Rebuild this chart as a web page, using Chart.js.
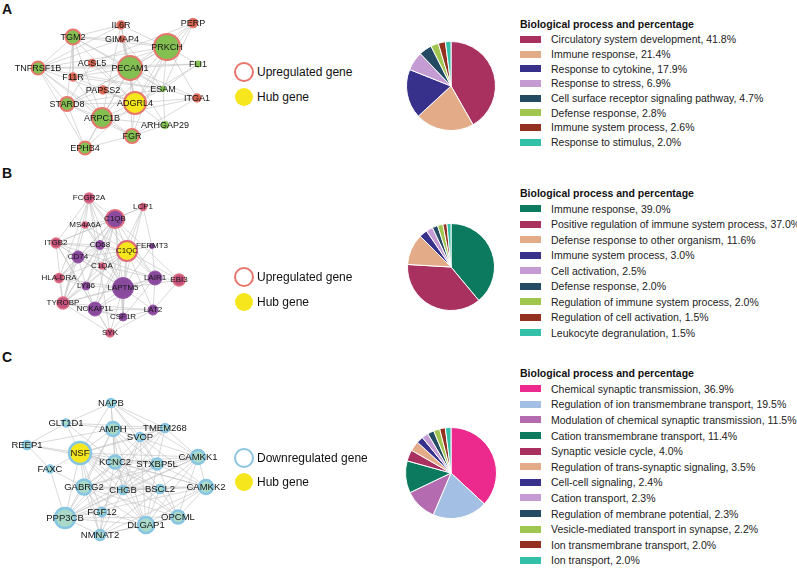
<!DOCTYPE html>
<html><head><meta charset="utf-8">
<script src="https://cdn.jsdelivr.net/npm/chart.js@4.4.1/dist/chart.umd.min.js"></script>
<style>
html,body{margin:0;padding:0;background:#fff;}
body{width:797px;height:569px;position:relative;overflow:hidden;font-family:"Liberation Sans",Arial,Helvetica,sans-serif;color:#111;}
.letter{position:absolute;left:2px;font-weight:bold;font-size:14px;line-height:14px;color:#111;}
.wrap{position:absolute;}
.lbl{position:absolute;transform:translate(-50%,-50%);white-space:nowrap;line-height:1;color:#151515;pointer-events:none;}
.mleg{position:absolute;left:257px;font-size:12px;line-height:14px;height:14px;white-space:nowrap;color:#111;}
.mark{position:absolute;border-radius:50%;box-sizing:border-box;}
.rleg{position:absolute;left:520px;font-size:10.5px;color:#222;}
.rleg .ttl{font-weight:bold;color:#111;height:15px;line-height:15px;white-space:nowrap;}
.rleg .it{display:flex;align-items:center;white-space:nowrap;}
.rleg .sw{width:21px;height:7px;margin-right:10px;flex:none;}
</style>
</head><body>
<div class="letter" style="top:2px">A</div>
<div class="letter" style="top:166px">B</div>
<div class="letter" style="top:350px">C</div>

<div class="wrap" id="netA" style="left:0;top:0;width:230px;height:170px"><canvas id="cA" width="230" height="170"></canvas></div>
<div class="wrap" id="netB" style="left:0;top:170px;width:230px;height:185px"><canvas id="cB" width="230" height="185"></canvas></div>
<div class="wrap" id="netC" style="left:0;top:355px;width:230px;height:214px"><canvas id="cC" width="230" height="214"></canvas></div>

<div class="wrap" style="left:406px;top:41px;width:90px;height:90px"><canvas id="pA" width="90" height="90"></canvas></div>
<div class="wrap" style="left:407px;top:223px;width:88px;height:88px"><canvas id="pB" width="88" height="88"></canvas></div>
<div class="wrap" style="left:405px;top:427px;width:92px;height:92px"><canvas id="pC" width="92" height="92"></canvas></div>

<div id="midlegs"></div>
<div class="rleg" id="legA" style="top:17px"></div>
<div class="rleg" id="legB" style="top:186px"></div>
<div class="rleg" id="legC" style="top:366px"></div>

<script>
// ---------------- Network A ----------------
const netA_names = ['IL6R','PERP','TGM2','GIMAP4','PRKCH','FLI1','TNFRSF1B','ACSL5','PECAM1','F11R','ESAM','ITGA1','PAPSS2','ADGRL4','STARD8','ARPC1B','ARHGAP29','FGR','EPHB4'];
const netA_x = [121,193,73,122,167,198,38,92,130,73,163,197,103,135,67,102,165,132,85];
const netA_y = [25,23,37,39,47,64,68,63,68,77,89,98,90,103,104,118,125,136,148];
const netA_score = [3,4,10,1,21,2,8,2,19,3,1,3,3,17,9,15,3,9,8];
const netA_kind = ['sm','sm','gr','sm','gr','g0','gr','sm','gr','sm','g0','sm','sm','hub','gr','gr','g0','gr','gr'];
const netA_edges = [
 ['TGM2','IL6R'],['TGM2','GIMAP4'],['TGM2','PRKCH'],['TGM2','PECAM1'],['TGM2','TNFRSF1B'],['TGM2','F11R'],['TGM2','STARD8'],['TGM2','ADGRL4'],['TGM2','ESAM'],['TGM2','ARPC1B'],
 ['IL6R','PRKCH'],['IL6R','PECAM1'],['IL6R','TNFRSF1B'],['IL6R','ADGRL4'],['IL6R','ARPC1B'],
 ['PERP','PRKCH'],['PERP','ESAM'],['PERP','ADGRL4'],['PERP','PECAM1'],['PERP','ACSL5'],
 ['GIMAP4','PECAM1'],['GIMAP4','ADGRL4'],['GIMAP4','ESAM'],['GIMAP4','PRKCH'],['GIMAP4','TNFRSF1B'],
 ['PRKCH','PECAM1'],['PRKCH','ADGRL4'],['PRKCH','ESAM'],['PRKCH','FLI1'],['PRKCH','ITGA1'],['PRKCH','ARPC1B'],['PRKCH','TNFRSF1B'],['PRKCH','F11R'],['PRKCH','STARD8'],['PRKCH','FGR'],
 ['FLI1','PECAM1'],['FLI1','ADGRL4'],['FLI1','ESAM'],['FLI1','TNFRSF1B'],
 ['TNFRSF1B','PECAM1'],['TNFRSF1B','ADGRL4'],['TNFRSF1B','STARD8'],['TNFRSF1B','ARPC1B'],['TNFRSF1B','EPHB4'],['TNFRSF1B','FGR'],['TNFRSF1B','ESAM'],
 ['ACSL5','PECAM1'],['ACSL5','ADGRL4'],['ACSL5','STARD8'],
 ['PECAM1','ADGRL4'],['PECAM1','ESAM'],['PECAM1','F11R'],['PECAM1','STARD8'],['PECAM1','ARPC1B'],['PECAM1','ITGA1'],['PECAM1','ARHGAP29'],['PECAM1','FGR'],['PECAM1','EPHB4'],['PECAM1','PAPSS2'],
 ['F11R','ADGRL4'],['F11R','ESAM'],['F11R','ARPC1B'],
 ['ESAM','ADGRL4'],['ESAM','ARHGAP29'],['ESAM','ITGA1'],['ESAM','STARD8'],
 ['ITGA1','ADGRL4'],['ITGA1','ARPC1B'],['ITGA1','FGR'],
 ['PAPSS2','ADGRL4'],['PAPSS2','STARD8'],
 ['ADGRL4','STARD8'],['ADGRL4','ARPC1B'],['ADGRL4','ARHGAP29'],['ADGRL4','FGR'],['ADGRL4','EPHB4'],
 ['STARD8','ARPC1B'],['STARD8','EPHB4'],['STARD8','FGR'],
 ['ARPC1B','FGR'],['ARPC1B','EPHB4'],['ARPC1B','ARHGAP29'],
 ['FGR','EPHB4'],['FGR','ARHGAP29']
];

// ---------------- Network B ----------------
const netB_names = ['FCGR2A','LCP1','C1QB','MS4A6A','ITGB2','CD68','C1QC','FERMT3','CD74','C1QA','HLA-DRA','LAIR1','EBI3','LY86','LAPTM5','TYROBP','NCKAP1L','LAT2','CSF1R','SYK'];
const netB_x = [89,143,115,85,56,100,127,152,78,102,59,155,179,86,123,63,95,153,123,110];
const netB_y = [198,207,219,225,243,245,251,246,257,266,278,278,280,286,288,303,309,310,317,333];
const netB_score = [5,2,13,1,5,4,15,0,7,1,4,9,7,3,16,7,9,5,3,3];
const netB_kind = ['pk','pk','pr','pk','pk','p','hub','p','p','pk','pk','p','pk','p','p','pk','p','p','p','pk'];
const netB_edges = [
 ['FCGR2A','C1QB'],['FCGR2A','MS4A6A'],['FCGR2A','ITGB2'],['FCGR2A','CD68'],['FCGR2A','C1QC'],['FCGR2A','LAPTM5'],['FCGR2A','TYROBP'],['FCGR2A','SYK'],['FCGR2A','HLA-DRA'],['FCGR2A','LAIR1'],
 ['LCP1','C1QB'],['LCP1','LAPTM5'],['LCP1','C1QC'],['LCP1','FERMT3'],['LCP1','NCKAP1L'],['LCP1','ITGB2'],
 ['C1QB','MS4A6A'],['C1QB','C1QC'],['C1QB','CD68'],['C1QB','CD74'],['C1QB','C1QA'],['C1QB','LAPTM5'],['C1QB','LAIR1'],['C1QB','TYROBP'],['C1QB','ITGB2'],['C1QB','HLA-DRA'],['C1QB','LY86'],['C1QB','NCKAP1L'],['C1QB','CSF1R'],['C1QB','EBI3'],
 ['MS4A6A','CD68'],['MS4A6A','LAPTM5'],['MS4A6A','TYROBP'],['MS4A6A','C1QC'],
 ['ITGB2','CD68'],['ITGB2','CD74'],['ITGB2','LAPTM5'],['ITGB2','TYROBP'],['ITGB2','C1QC'],['ITGB2','SYK'],['ITGB2','NCKAP1L'],['ITGB2','LAIR1'],
 ['CD68','C1QC'],['CD68','CD74'],['CD68','LAPTM5'],['CD68','TYROBP'],['CD68','HLA-DRA'],['CD68','LY86'],
 ['C1QC','C1QA'],['C1QC','LAPTM5'],['C1QC','LAIR1'],['C1QC','CD74'],['C1QC','TYROBP'],['C1QC','NCKAP1L'],['C1QC','CSF1R'],['C1QC','FERMT3'],['C1QC','EBI3'],['C1QC','LAT2'],['C1QC','HLA-DRA'],['C1QC','LY86'],
 ['FERMT3','LAPTM5'],['FERMT3','LAIR1'],
 ['CD74','HLA-DRA'],['CD74','LAPTM5'],['CD74','TYROBP'],['CD74','LY86'],['CD74','C1QA'],
 ['C1QA','LAPTM5'],['C1QA','TYROBP'],['C1QA','LAIR1'],
 ['HLA-DRA','LAPTM5'],['HLA-DRA','TYROBP'],['HLA-DRA','LY86'],
 ['LAIR1','LAPTM5'],['LAIR1','EBI3'],['LAIR1','TYROBP'],['LAIR1','LAT2'],['LAIR1','NCKAP1L'],['LAIR1','CSF1R'],
 ['EBI3','LAPTM5'],['EBI3','LAT2'],
 ['LY86','LAPTM5'],['LY86','TYROBP'],['LY86','NCKAP1L'],
 ['LAPTM5','TYROBP'],['LAPTM5','NCKAP1L'],['LAPTM5','LAT2'],['LAPTM5','CSF1R'],['LAPTM5','SYK'],
 ['TYROBP','NCKAP1L'],['TYROBP','SYK'],['TYROBP','CSF1R'],['TYROBP','LAT2'],
 ['NCKAP1L','CSF1R'],['NCKAP1L','SYK'],['NCKAP1L','LAT2'],
 ['LAT2','CSF1R'],['LAT2','SYK'],['CSF1R','SYK']
];

// ---------------- Network C ----------------
const netC_names = ['NAPB','GLT1D1','AMPH','TMEM268','SVOP','REEP1','NSF','KCNC2','STXBP5L','CAMKK1','FAXC','GABRG2','CHGB','BSCL2','CAMKK2','FGF12','PPP3CB','OPCML','DLGAP1','NMNAT2'];
const netC_x = [111,66,113,165,140,27,80,115,157,198,50,84,123,160,206,102,65,178,146,100];
const netC_y = [403,423,429,428,437,445,453,462,464,457,469,487,490,489,487,512,518,517,525,535];
const netC_score = [3,2,9,3,3,3,17,8,6,9,2,10,3,3,9,3,15,8,11,5];
const netC_kind = ['n','n','n','n','n','n','hub','n','n','n','n','n','n','n','n','n','n','n','n','n'];
const netC_edges = [
 ['NAPB','AMPH'],['NAPB','NSF'],['NAPB','SVOP'],['NAPB','KCNC2'],['NAPB','STXBP5L'],['NAPB','GLT1D1'],['NAPB','CAMKK1'],['NAPB','TMEM268'],
 ['GLT1D1','NSF'],['GLT1D1','AMPH'],['GLT1D1','TMEM268'],['GLT1D1','REEP1'],['GLT1D1','KCNC2'],
 ['AMPH','NSF'],['AMPH','SVOP'],['AMPH','TMEM268'],['AMPH','KCNC2'],['AMPH','STXBP5L'],['AMPH','CAMKK1'],['AMPH','GABRG2'],['AMPH','CHGB'],['AMPH','BSCL2'],['AMPH','DLGAP1'],['AMPH','PPP3CB'],
 ['TMEM268','SVOP'],['TMEM268','CAMKK1'],['TMEM268','NSF'],['TMEM268','STXBP5L'],['TMEM268','CHGB'],['TMEM268','GABRG2'],['TMEM268','PPP3CB'],
 ['SVOP','NSF'],['SVOP','STXBP5L'],['SVOP','KCNC2'],['SVOP','CHGB'],['SVOP','DLGAP1'],['SVOP','CAMKK2'],['SVOP','FGF12'],
 ['REEP1','NSF'],['REEP1','AMPH'],['REEP1','KCNC2'],['REEP1','FAXC'],
 ['NSF','KCNC2'],['NSF','STXBP5L'],['NSF','CAMKK1'],['NSF','FAXC'],['NSF','GABRG2'],['NSF','CHGB'],['NSF','BSCL2'],['NSF','CAMKK2'],['NSF','PPP3CB'],['NSF','DLGAP1'],['NSF','OPCML'],['NSF','FGF12'],['NSF','NMNAT2'],
 ['KCNC2','STXBP5L'],['KCNC2','CAMKK1'],['KCNC2','GABRG2'],['KCNC2','CHGB'],['KCNC2','BSCL2'],['KCNC2','CAMKK2'],['KCNC2','PPP3CB'],['KCNC2','DLGAP1'],['KCNC2','OPCML'],['KCNC2','NMNAT2'],
 ['STXBP5L','CAMKK1'],['STXBP5L','CAMKK2'],['STXBP5L','GABRG2'],['STXBP5L','CHGB'],['STXBP5L','DLGAP1'],['STXBP5L','PPP3CB'],['STXBP5L','OPCML'],
 ['CAMKK1','CAMKK2'],['CAMKK1','BSCL2'],['CAMKK1','GABRG2'],['CAMKK1','DLGAP1'],['CAMKK1','OPCML'],['CAMKK1','PPP3CB'],['CAMKK1','CHGB'],
 ['FAXC','GABRG2'],['FAXC','PPP3CB'],
 ['GABRG2','CHGB'],['GABRG2','BSCL2'],['GABRG2','CAMKK2'],['GABRG2','PPP3CB'],['GABRG2','FGF12'],['GABRG2','DLGAP1'],['GABRG2','NMNAT2'],['GABRG2','OPCML'],
 ['CHGB','BSCL2'],['CHGB','PPP3CB'],['CHGB','DLGAP1'],['CHGB','NMNAT2'],['CHGB','CAMKK2'],
 ['BSCL2','CAMKK2'],['BSCL2','DLGAP1'],['BSCL2','PPP3CB'],['BSCL2','OPCML'],['BSCL2','NMNAT2'],
 ['CAMKK2','OPCML'],['CAMKK2','DLGAP1'],['CAMKK2','PPP3CB'],['CAMKK2','NMNAT2'],
 ['FGF12','PPP3CB'],['FGF12','DLGAP1'],['FGF12','NMNAT2'],
 ['PPP3CB','DLGAP1'],['PPP3CB','NMNAT2'],['PPP3CB','OPCML'],
 ['OPCML','DLGAP1'],['OPCML','NMNAT2'],['DLGAP1','NMNAT2']
];

// ---------------- Pie data ----------------
const pieA_labels = ['Circulatory system development','Immune response','Response to cytokine','Response to stress','Cell surface receptor signaling pathway','Defense response','Immune system process','Response to stimulus'];
const pieA_values = [41.8,21.4,17.9,6.9,4.7,2.8,2.6,2.0];
const pieB_labels = ['Immune response','Positive regulation of immune system process','Defense response to other organism','Immune system process','Cell activation','Defense response','Regulation of immune system process','Regulation of cell activation','Leukocyte degranulation'];
const pieB_values = [39.0,37.0,11.6,3.0,2.5,2.0,2.0,1.5,1.5];
const pieC_labels = ['Chemical synaptic transmission','Regulation of ion transmembrane transport','Modulation of chemical synaptic transmission','Cation transmembrane transport','Synaptic vesicle cycle','Regulation of trans-synaptic signaling','Cell-cell signaling','Cation transport','Regulation of membrane potential','Vesicle-mediated transport in synapse','Ion transmembrane transport','Ion transport'];
const pieC_values = [36.9,19.5,11.5,11.4,4.0,3.5,2.4,2.3,2.3,2.2,2.0,2.0];

// ---------------- Styles ----------------
const C_CRIMSON='#a8315f', C_TAN='#e3ab88', C_NAVY='#38318c', C_LILAC='#c49bd2', C_SLATE='#244a64', C_LIME='#a1c650', C_BROWN='#93301f', C_TEAL='#33c0a8', C_GREEN='#0c7a5e', C_PINK='#ec2a8e', C_SKY='#a3bfe3', C_ORCHID='#b56bb0';
const pieA_colors=[C_CRIMSON,C_TAN,C_NAVY,C_LILAC,C_SLATE,C_LIME,C_BROWN,C_TEAL];
const pieB_colors=[C_GREEN,C_CRIMSON,C_TAN,C_NAVY,C_LILAC,C_SLATE,C_LIME,C_BROWN,C_TEAL];
const pieC_colors=[C_PINK,C_SKY,C_ORCHID,C_GREEN,C_CRIMSON,C_TAN,C_NAVY,C_LILAC,C_SLATE,C_LIME,C_BROWN,C_TEAL];

const styleA = {
  hub:{bg:'#f6e61d',bd:'#e8766c',bw:2},
  gr:{bg:'#84bf52',bd:'#e8766c',bw:2},
  g0:{bg:'#84bf52',bd:'#84bf52',bw:0},
  sm:{bg:'#d0644d',bd:'#e8766c',bw:1.5}
};
const styleB = {
  hub:{bg:'#f6e61d',bd:'#e0687c',bw:2},
  pr:{bg:'#8a4a9d',bd:'#e0687c',bw:2},
  p:{bg:'#8a4a9d',bd:'#9656a8',bw:1},
  pk:{bg:'#c4527c',bd:'#e07082',bw:1.5}
};
const styleC = {
  hub:{bg:'#f6e61d',bd:'#86c6e3',bw:2.5},
  n:{bg:'#a9d9c8',bd:'#86c6e3',bw:2.5}
};

function scoreToRadius(s){ return 2.5 + s*0.5; }

function labelPlugin(names, fontSize){
  return {
    id:'nodeLabels',
    afterDraw(chart){
      if (chart.$lblDone) return;
      chart.$lblDone = true;
      const wrap = chart.canvas.parentNode;
      const idx = chart.data.datasets.findIndex(d => d.isNodes);
      const meta = chart.getDatasetMeta(idx);
      meta.data.forEach((pt,i) => {
        const d = document.createElement('div');
        d.className='lbl';
        d.style.fontSize = fontSize+'px';
        d.style.left = pt.x+'px';
        d.style.top = pt.y+'px';
        d.textContent = names[i];
        wrap.appendChild(d);
      });
    }
  };
}

function makeNet(canvasId, yMin, yMax, names, xs, ys, scores, kinds, edges, styles, fontSize){
  const pos = {};
  names.forEach((n,i)=>{ pos[n] = {x:xs[i], y:ys[i]}; });
  const edgeData = [];
  edges.forEach(([a,b])=>{
    edgeData.push({x:pos[a].x,y:pos[a].y});
    edgeData.push({x:pos[b].x,y:pos[b].y});
    edgeData.push({x:null,y:null});
  });
  const nodeData = names.map((n,i)=>({x:xs[i], y:ys[i]}));
  new Chart(document.getElementById(canvasId), {
    type:'scatter',
    data:{datasets:[
      {data:edgeData, showLine:true, spanGaps:false, borderColor:'rgba(195,195,195,0.8)', borderWidth:0.8, pointRadius:0, pointHoverRadius:0, order:2, clip:false},
      {data:nodeData, isNodes:true, order:1, clip:false,
        pointRadius:ctx=>scoreToRadius(scores[ctx.dataIndex]),
        pointHoverRadius:ctx=>scoreToRadius(scores[ctx.dataIndex]),
        pointBackgroundColor:ctx=>styles[kinds[ctx.dataIndex]].bg,
        pointBorderColor:ctx=>styles[kinds[ctx.dataIndex]].bd,
        pointBorderWidth:ctx=>styles[kinds[ctx.dataIndex]].bw,
        pointHoverBorderWidth:ctx=>styles[kinds[ctx.dataIndex]].bw,
        showLine:false}
    ]},
    options:{
      responsive:false, animation:false, events:[],
      layout:{padding:0, autoPadding:false},
      plugins:{legend:{display:false}, tooltip:{enabled:false}},
      scales:{
        x:{type:'linear', min:0, max:230, display:false},
        y:{type:'linear', min:yMin, max:yMax, reverse:true, display:false}
      }
    },
    plugins:[labelPlugin(names, fontSize)]
  });
}

makeNet('cA', 0, 170, netA_names, netA_x, netA_y, netA_score, netA_kind, netA_edges, styleA, 9);
makeNet('cB', 170, 355, netB_names, netB_x, netB_y, netB_score, netB_kind, netB_edges, styleB, 8);
makeNet('cC', 355, 569, netC_names, netC_x, netC_y, netC_score, netC_kind, netC_edges, styleC, 9.5);

function makePie(id, labels, values, colors){
  new Chart(document.getElementById(id), {
    type:'pie',
    data:{labels:labels, datasets:[{data:values, backgroundColor:colors, borderColor:'#ffffff', borderWidth:1}]},
    options:{responsive:false, animation:false, events:[], layout:{padding:0},
      plugins:{legend:{display:false}, tooltip:{enabled:false}}}
  });
}
makePie('pA', pieA_labels, pieA_values, pieA_colors);
makePie('pB', pieB_labels, pieB_values, pieB_colors);
makePie('pC', pieC_labels, pieC_values, pieC_colors);

function makeLegend(id, labels, values, colors, rowH){
  const el = document.getElementById(id);
  const t = document.createElement('div'); t.className='ttl'; t.textContent='Biological process and percentage'; el.appendChild(t);
  labels.forEach((l,i)=>{
    const r = document.createElement('div'); r.className='it'; r.style.height=rowH+'px';
    const s = document.createElement('div'); s.className='sw'; s.style.background=colors[i];
    const tx = document.createElement('span'); tx.textContent = l + ', ' + values[i].toFixed(1) + '%';
    r.appendChild(s); r.appendChild(tx); el.appendChild(r);
  });
}
makeLegend('legA', pieA_labels, pieA_values, pieA_colors, 14.7);
makeLegend('legB', pieB_labels, pieB_values, pieB_colors, 15.5);
makeLegend('legC', pieC_labels, pieC_values, pieC_colors, 15.6);

// middle legends
const mid = document.getElementById('midlegs');
function midLegend(cy1, cy2, ringColor, text){
  const ring = document.createElement('div'); ring.className='mark';
  Object.assign(ring.style,{left:(244-10)+'px', top:(cy1-10)+'px', width:'20px', height:'20px', border:'2.5px solid '+ringColor});
  const hub = document.createElement('div'); hub.className='mark';
  Object.assign(hub.style,{left:(244-9)+'px', top:(cy2-9)+'px', width:'18px', height:'18px', background:'#f6e61d'});
  const t1 = document.createElement('div'); t1.className='mleg'; t1.style.top=(cy1-7)+'px'; t1.textContent=text;
  const t2 = document.createElement('div'); t2.className='mleg'; t2.style.top=(cy2-7)+'px'; t2.textContent='Hub gene';
  [ring,hub,t1,t2].forEach(e=>mid.appendChild(e));
}
midLegend(72, 97, '#e8766c', 'Upregulated gene');
midLegend(277, 302, '#e8766c', 'Upregulated gene');
midLegend(458, 482, '#8cc4e2', 'Downregulated gene');
</script>
</body></html>
